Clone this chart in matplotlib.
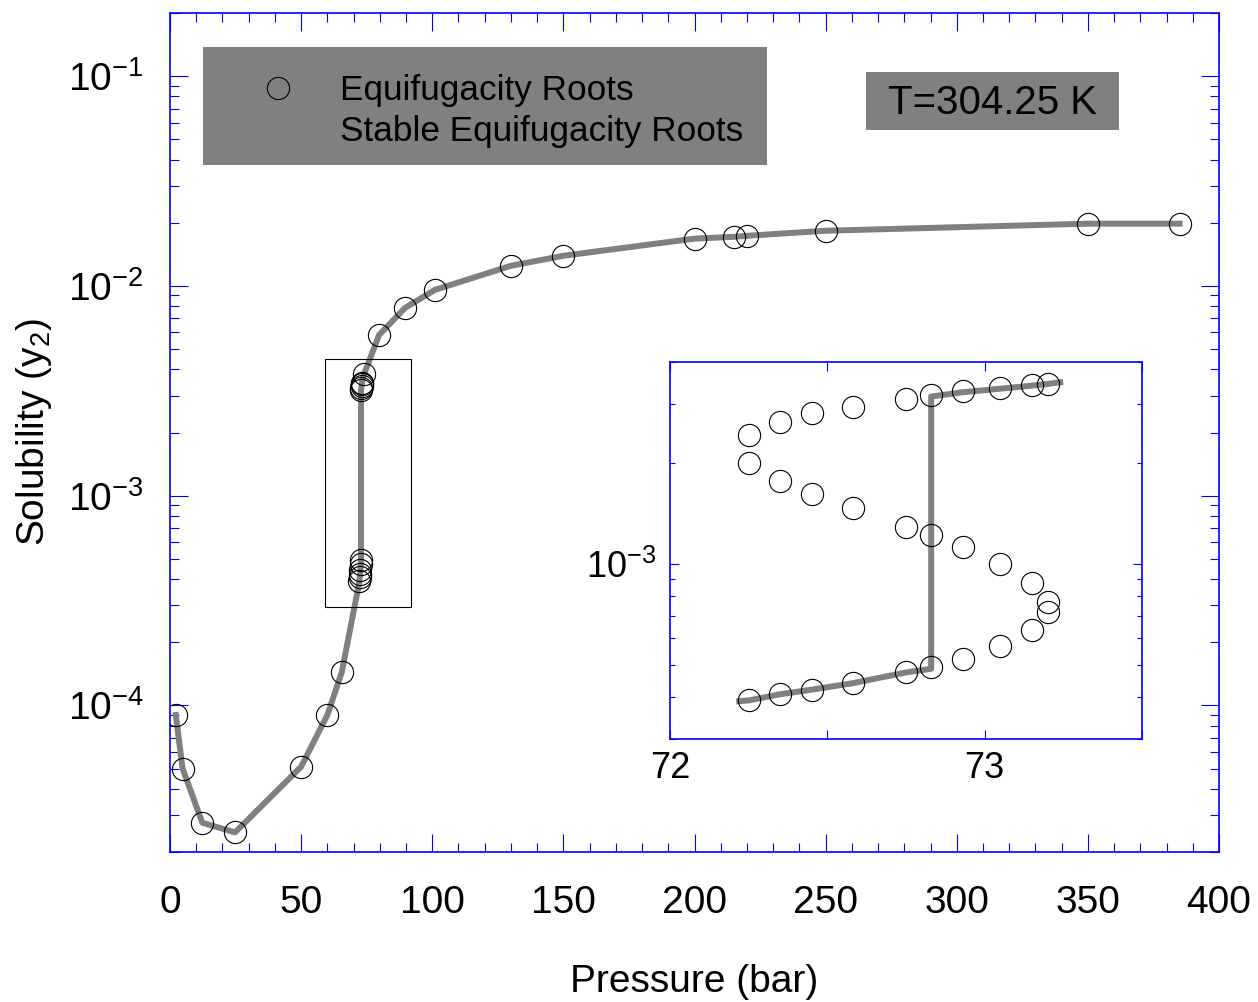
import matplotlib
matplotlib.use('Agg')
import matplotlib.pyplot as plt
from matplotlib.lines import Line2D
from matplotlib.patches import Rectangle
from matplotlib.ticker import MultipleLocator, LogLocator, NullFormatter, FuncFormatter

plt.rcParams['font.family'] = ['Liberation Sans', 'DejaVu Sans']
plt.rcParams['mathtext.fontset'] = 'custom'
plt.rcParams['mathtext.rm'] = 'Liberation Sans'
plt.rcParams['mathtext.it'] = 'Liberation Sans:italic'
plt.rcParams['axes.unicode_minus'] = False

# equifugacity roots outside the three-root region (bar, y2)
main_p = [2.2, 4.8, 12.3, 24.8, 50.0, 60.0, 65.5, 74.1, 79.7, 89.6, 101.0,
          130.0, 150.0, 200.0, 215.0, 220.0, 250.0, 350.0, 385.0]
main_y = [9.0e-5, 5.0e-5, 2.76e-5, 2.48e-5, 5.1e-5, 9.0e-5, 1.44e-4, 3.82e-3,
          5.83e-3, 7.85e-3, 9.57e-3, 1.247e-2, 1.392e-2, 1.68e-2, 1.714e-2,
          1.733e-2, 1.832e-2, 1.98e-2, 1.98e-2]

# three-root region (inset)
root_p = [72.25, 72.35, 72.45, 72.58, 72.75, 72.83, 72.93, 73.05, 73.15, 73.20]
root_upper = [2.42e-3, 2.65e-3, 2.81e-3, 2.94e-3, 3.11e-3, 3.18e-3, 3.27e-3,
              3.34e-3, 3.41e-3, 3.44e-3]
root_middle = [2.00e-3, 1.76e-3, 1.61e-3, 1.47e-3, 1.29e-3, 1.22e-3, 1.125e-3,
               1.00e-3, 8.78e-4, 7.70e-4]
root_lower = [3.91e-4, 4.08e-4, 4.21e-4, 4.40e-4, 4.74e-4, 4.91e-4, 5.20e-4,
              5.70e-4, 6.33e-4, 7.18e-4]

# stable equifugacity roots (line)
stable_p = [2.2, 4.8, 12.3, 24.8, 50.0, 60.0, 65.5,
            72.22, 72.25, 72.35, 72.45, 72.58, 72.75, 72.83,
            72.83, 72.93, 73.05, 73.15, 73.20, 73.24,
            74.1, 79.7, 89.6, 101.0, 130.0, 150.0, 200.0, 215.0, 220.0,
            250.0, 350.0, 385.0]
stable_y = [9.0e-5, 5.0e-5, 2.76e-5, 2.48e-5, 5.1e-5, 9.0e-5, 1.44e-4,
            3.89e-4, 3.91e-4, 4.08e-4, 4.21e-4, 4.40e-4, 4.74e-4, 4.86e-4,
            3.155e-3, 3.25e-3, 3.33e-3, 3.40e-3, 3.44e-3, 3.48e-3,
            3.82e-3, 5.83e-3, 7.85e-3, 9.57e-3, 1.247e-2, 1.392e-2, 1.68e-2,
            1.714e-2, 1.733e-2, 1.832e-2, 1.98e-2, 1.98e-2]
inset_slice = slice(7, 20)   # part of the stable line shown in the inset

# zoom box drawn on the main plot
box_p = (59.1, 91.9)
box_y = (2.95e-4, 4.5e-3)

LINE_C = '#808080'
AX_C = 'blue'
circ = dict(linestyle='none', marker='o', ms=16, mfc='none', mec='black', mew=0.8)

fig = plt.figure(figsize=(12.58, 10.02), dpi=100)
W, H = 1258, 1002
ax = fig.add_axes([170 / W, (H - 852) / H, 1049 / W, 839 / H])

ax.plot(stable_p, stable_y, color=LINE_C, lw=4.3, zorder=2)
ax.plot(main_p, main_y, zorder=3, **circ)
ax.plot(root_p[:6], root_lower[:6], zorder=3, **circ)
ax.plot(root_p[5:], root_upper[5:], zorder=3, **circ)
ax.add_patch(Rectangle((box_p[0], box_y[0]), box_p[1] - box_p[0], box_y[1] - box_y[0],
                       fill=False, ec='black', lw=0.8, zorder=4))

ax.set_yscale('log')
ax.set_xlim(0, 400)
ax.set_ylim(2e-5, 0.2)
ax.xaxis.set_major_locator(MultipleLocator(50))
ax.xaxis.set_minor_locator(MultipleLocator(10))
ax.yaxis.set_major_locator(LogLocator(base=10, numticks=20))
ax.yaxis.set_minor_locator(LogLocator(base=10, subs=range(2, 10), numticks=20))
ax.yaxis.set_minor_formatter(NullFormatter())
for s in ax.spines.values():
    s.set_color(AX_C)
    s.set_linewidth(1.2)
ax.tick_params(which='both', direction='in', top=True, right=True, colors=AX_C,
               labelcolor='black', labelsize=28, width=0.8)
ax.tick_params(which='major', length=13)
ax.tick_params(which='minor', length=6.5)
ax.tick_params(axis='x', which='major', pad=24)
ax.tick_params(axis='y', which='major', pad=19)

ax.set_xlabel('Pressure (bar)', fontsize=28)
ax.set_ylabel('Solubility (y$_2$)', fontsize=28)
ax.xaxis.set_label_coords(0.5, -0.134)
ax.yaxis.set_label_coords(-0.111, 0.5)

# legend: gray panel behind a frameless legend
ax.add_patch(Rectangle((203 / W, 1 - 165 / H), 564 / W, 118 / H,
                       transform=fig.transFigure, fc=LINE_C, ec='none',
                       zorder=4.5, clip_on=False))
handles = [Line2D([], [], **circ),
           Line2D([], [], color=LINE_C, lw=4.3)]
leg = ax.legend(handles, ['Equifugacity Roots', 'Stable Equifugacity Roots'],
                loc='upper left', bbox_to_anchor=(227 / W, 1 - 74 / H),
                bbox_transform=fig.transFigure, borderaxespad=0, borderpad=0,
                fontsize=25.3, handlelength=2.9, handletextpad=0.31,
                labelspacing=0.24, frameon=False)
leg.set_zorder(5)

# temperature box
fig.patches.append(Rectangle((866 / W, 1 - 130 / H), 253 / W, 58 / H,
                             transform=fig.transFigure, fc=LINE_C, ec='none', zorder=5))
fig.text(992 / W, 1 - 103 / H, 'T=304.25 K', fontsize=29, ha='center', va='center',
         zorder=6)

# inset
axin = fig.add_axes([670 / W, (H - 739) / H, 472 / W, 377 / H])
axin.plot(stable_p[inset_slice], stable_y[inset_slice], color=LINE_C, lw=4.3, zorder=2)
axin.plot(root_p, root_upper, zorder=3, **circ)
axin.plot(root_p, root_middle, zorder=3, **circ)
axin.plot(root_p, root_lower, zorder=3, **circ)
axin.set_yscale('log')
axin.set_xlim(72, 73.5)
axin.set_ylim(3e-4, 4e-3)
axin.xaxis.set_major_locator(MultipleLocator(0.5))
axin.xaxis.set_major_formatter(FuncFormatter(lambda v, pos: f'{v:.0f}' if abs(v - round(v)) < 1e-6 else ''))
axin.yaxis.set_major_locator(LogLocator(base=10, numticks=10))
axin.yaxis.set_minor_locator(LogLocator(base=10, subs=range(2, 10), numticks=10))
axin.yaxis.set_minor_formatter(NullFormatter())
for s in axin.spines.values():
    s.set_color(AX_C)
    s.set_linewidth(1.2)
axin.tick_params(which='both', direction='in', top=True, right=True, colors=AX_C,
                 labelcolor='black', labelsize=26, width=0.8)
axin.tick_params(which='major', length=6.5)
axin.tick_params(which='minor', length=3.6)
axin.tick_params(axis='x', pad=9)
axin.tick_params(axis='y', pad=10)

fig.savefig('out.png', dpi=100)
